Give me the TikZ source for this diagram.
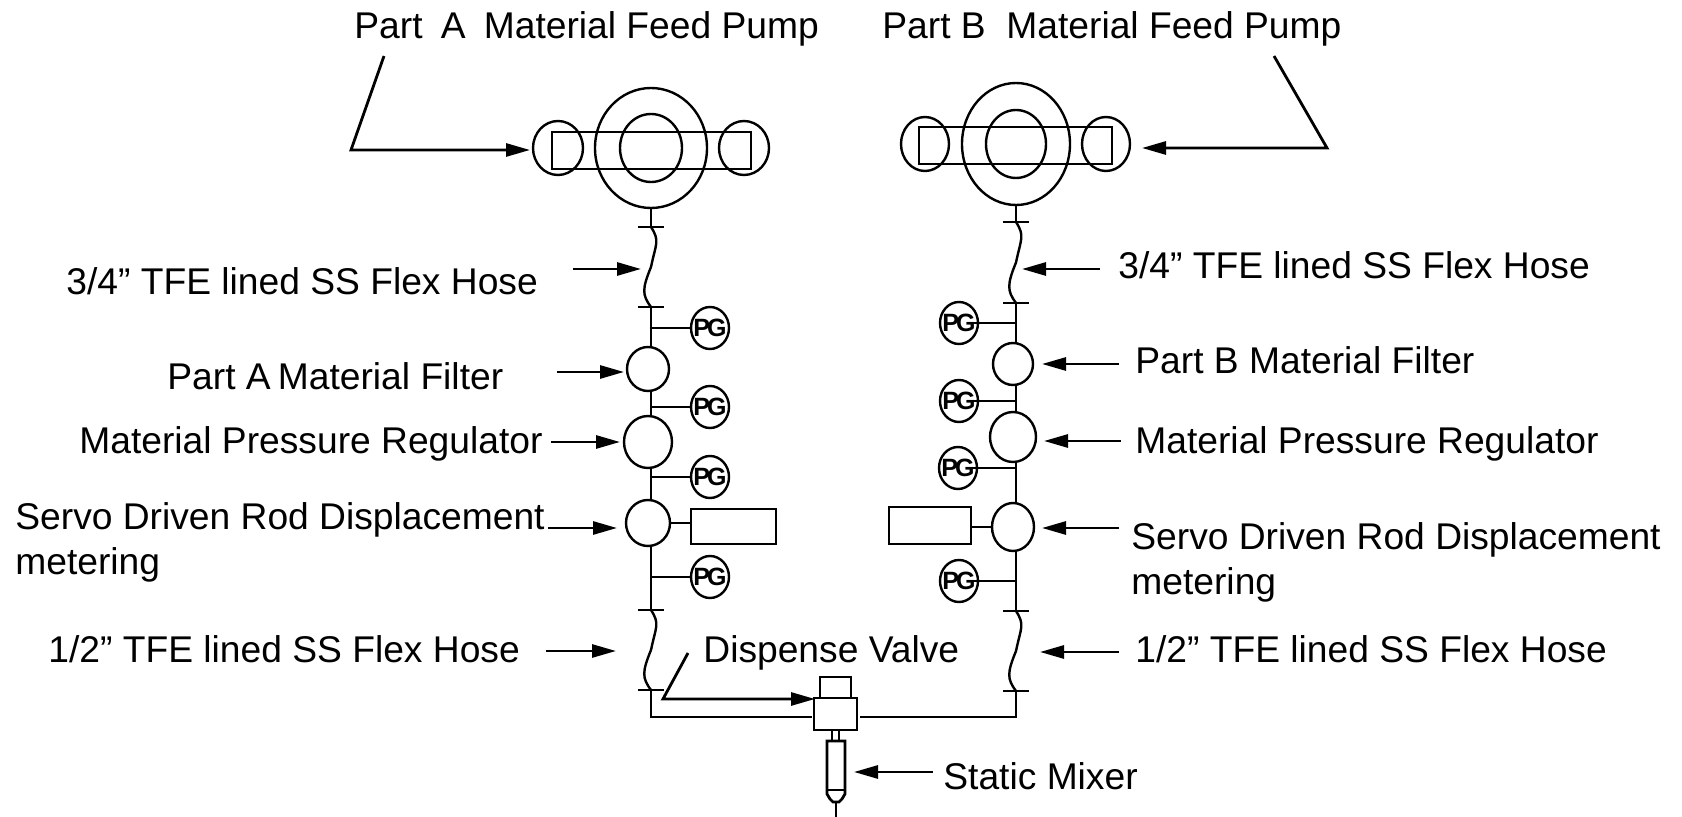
\documentclass[tikz,border=0pt]{standalone}
\usepackage{fontspec}
\setmainfont{Liberation Sans}
\usetikzlibrary{positioning}
\usetikzlibrary{calc}
\usetikzlibrary{shapes.geometric}
\usetikzlibrary{arrows.meta}
\tikzset{
	part/.style 2 args={ellipse,draw,line width=1.2pt,inner sep=0,outer sep=0,minimum width=#1,minimum height=#2},
	boxpart/.style 2 args={rectangle,draw,line width=1.4pt,inner sep=0,outer sep=0,minimum width=#1,minimum height=#2},
	gauge/.style={part={19pt}{21pt},label={[inner sep=0,font=\bfseries\fontsize{12.5}{12.5}\selectfont]center:P\kern-1.5pt G}},
	caption/.style={anchor=base west,inner sep=0,font=\fontsize{18.6}{22.6}\selectfont},
	pipe/.style={line width=1.4pt},
	pointer/.style={line width=1.4pt,-{Triangle[length=12pt,width=6.5pt]}},
	hose/.style={line width=1.2pt}
}
\begin{document}
\begin{tikzpicture}[x=0.5pt,y=-0.5pt]
	\useasboundingbox (0,0) rectangle (1682,817);
	\node [part={56pt}{60pt}] (pumpA) at (651,148) {};
	\node [part={31pt}{34pt}] (pumpAin) at (651,148) {};
	\node [part={25pt}{27pt}] (pumpAl) at (558,148) {};
	\node [part={25pt}{27pt}] (pumpAr) at (744,148) {};
	\node [boxpart={99.5pt}{18.5pt}] (pumpAbar) at (651.5,150.5) {};
	\node [part={54pt}{61pt}] (pumpB) at (1016,144) {};
	\node [part={30pt}{34pt}] (pumpBin) at (1016,144) {};
	\node [part={24pt}{27pt}] (pumpBl) at (925,144) {};
	\node [part={24pt}{27pt}] (pumpBr) at (1106,144) {};
	\node [boxpart={96.5pt}{18.5pt}] (pumpBbar) at (1015.5,145.5) {};
	\node [part={21pt}{22pt}] (filterA) at (648,369) {};
	\node [part={24pt}{26pt}] (regA) at (648,442) {};
	\node [part={22pt}{23pt}] (servoA) at (648,523) {};
	\node [boxpart={42.5pt}{17.5pt}] (motorA) at (733.5,526.5) {};
	\node [part={20pt}{21pt}] (filterB) at (1013,364) {};
	\node [part={23pt}{25pt}] (regB) at (1013,437) {};
	\node [part={21pt}{24pt}] (servoB) at (1013,527) {};
	\node [boxpart={41pt}{18.5pt}] (motorB) at (930,525.5) {};
	\node [gauge] (pgA1) at (710,328) {};
	\node [gauge] (pgA2) at (710,407) {};
	\node [gauge] (pgA3) at (710,477) {};
	\node [gauge] (pgA4) at (710,577) {};
	\node [gauge] (pgB1) at (959,323) {};
	\node [gauge] (pgB2) at (959,401) {};
	\node [gauge] (pgB3) at (958,468) {};
	\node [gauge] (pgB4) at (959,581) {};
	\node [boxpart={21.5pt}{16pt}] (valve) at (835.5,714) {};
	\node [boxpart={15.5pt}{10.5pt}] (valvetop) at (835.5,687.5) {};

	\coordinate (tA1) at (651,227);
	\coordinate (tA2) at (651,307);
	\coordinate (tA3) at (651,610);
	\coordinate (tA4) at (651,690);
	\coordinate (cornerA) at (651,717);
	\coordinate (tB1) at (1016,222);
	\coordinate (tB2) at (1016,303);
	\coordinate (tB3) at (1016,611);
	\coordinate (tB4) at (1016,691);
	\coordinate (cornerB) at (1016,717);

	\foreach \tick in {tA1,tA2,tA3,tA4,tB1,tB2,tB3,tB4}
		\draw [pipe] ($(\tick)+(-13,0)$) -- ($(\tick)+(13,0)$);
	\foreach \a/\b in {tA1/tA2,tA3/tA4,tB1/tB2,tB3/tB4}
		\draw [hose] (\a) .. controls +(9,14) and +(5,-24) .. ($(\a)!.5!(\b)$) .. controls +(-9,22) and +(-9,-12) .. (\b);

	\draw [pipe] (pumpA) ++(0,60) -- (tA1);
	\draw [pipe] (tA2) -- (tA2 |- filterA.north);
	\draw [pipe] (tA2 |- filterA.south) -- (tA2 |- regA.north);
	\draw [pipe] (tA2 |- regA.south) -- (tA2 |- servoA.north);
	\draw [pipe] (tA2 |- servoA.south) -- (tA3);
	\draw [pipe] (tA4) -- (cornerA) -- ($(cornerA -| valve.west)+(-2,0)$);
	\draw [pipe] (pumpB) ++(0,61) -- (tB1);
	\draw [pipe] (tB2) -- (tB2 |- filterB.north);
	\draw [pipe] (tB2 |- filterB.south) -- (tB2 |- regB.north);
	\draw [pipe] (tB2 |- regB.south) -- (tB2 |- servoB.north);
	\draw [pipe] (tB2 |- servoB.south) -- (tB3);
	\draw [pipe] (tB4) -- (cornerB) -- ($(cornerB -| valve.east)+(3,0)$);
	\draw [pipe] (tA2 |- pgA1) -- (pgA1.west);
	\draw [pipe] (tA2 |- pgA2) -- (pgA2.west);
	\draw [pipe] (tA2 |- pgA3) -- (pgA3.west);
	\draw [pipe] (tA2 |- pgA4) -- (pgA4.west);
	\draw [pipe] (tB2 |- pgB1) -- ($(pgB1.center)+(8,0)$);
	\draw [pipe] (tB2 |- pgB2) -- ($(pgB2.center)+(9,0)$);
	\draw [pipe] (tB2 |- pgB3) -- ($(pgB3.center)+(9,0)$);
	\draw [pipe] (tB2 |- pgB4) -- ($(pgB4.center)+(9,0)$);
	\draw [pipe] (servoA.east) -- (servoA.east -| motorA.west);
	\draw [pipe] (servoB.west) -- (servoB.west -| motorB.east);

	\draw [pipe] (832,730) -- (832,741);
	\draw [pipe] (839,730) -- (839,741);
	\draw [pipe] (827,741) -- (845,741) -- (845,794) -- (842,799) -- (839,802) -- (833,802) -- (830,799) -- (827,794) -- cycle;
	\draw [pipe] (827,790) -- (845,790);
	\draw [pipe] (836,802) -- (836,817);

	\node [caption] (lblPumpA) at (354,39) {Part\hspace{.49em}A\hspace{.49em}Material Feed Pump};
	\node [caption] (lblPumpB) at (882,39) {Part B\ \ Material Feed Pump};
	\node [caption] (lblHoseA) at (66,295) {3/4” TFE lined SS Flex Hose};
	\node [caption] (lblHoseB) at (1118,279) {3/4” TFE lined SS Flex Hose};
	\node [caption] (lblFilterA) at (167,390) {Part A\kern-1.6pt\ Material Filter};
	\node [caption] (lblFilterB) at (1135,374) {Part B Material Filter};
	\node [caption] (lblRegA) at (79,454) {Material Pressure Regulator};
	\node [caption] (lblRegB) at (1135,454) {Material Pressure Regulator};
	\node [caption,anchor=north west,align=left] (lblServoA) at (15,502) {Servo Driven Rod Displacement\\metering};
	\node [caption,anchor=north west,align=left] (lblServoB) at (1131,522) {Servo Driven Rod Displacement\\metering};
	\node [caption] (lblFlexA) at (48,663) {1/2” TFE lined SS Flex Hose};
	\node [caption] (lblFlexB) at (1135,663) {1/2” TFE lined SS Flex Hose};
	\node [caption] (lblValve) at (703,663) {Dispense Valve};
	\node [caption] (lblMixer) at (943,790) {Static Mixer};

	\coordinate (a1) at (384,56);
	\coordinate (a2) at (351,150);
	\coordinate (a3) at (530,150);
	\draw [pointer] (a1) -- (a2) -- (a3);
	\coordinate (b1) at (1274,56);
	\coordinate (b2) at (1327,148);
	\coordinate (b3) at (1142,148);
	\draw [pointer] (b1) -- (b2) -- (b3);
	\coordinate (v1) at (688,653);
	\coordinate (v2) at (663,699);
	\coordinate (v3) at (815,699);
	\draw [pointer] (v1) -- (v2) -- (v3);
	\foreach \name/\xa/\xb/\yy in {hoseA/573/641/269,filterA/557/624/372,regA/551/620/442,servoA/548/617/528,flexA/546/616/651,hoseB/1100/1022/269,filterB/1119/1042/364,regB/1121/1044/441,servoB/1119/1042/528,flexB/1119/1040/652,mixer/933/854/772}{
		\coordinate (\name tail) at (\xa,\yy);
		\coordinate (\name tip) at (\xb,\yy);
		\draw [pointer] (\name tail) -- (\name tip);
	}
\end{tikzpicture}
\end{document}
